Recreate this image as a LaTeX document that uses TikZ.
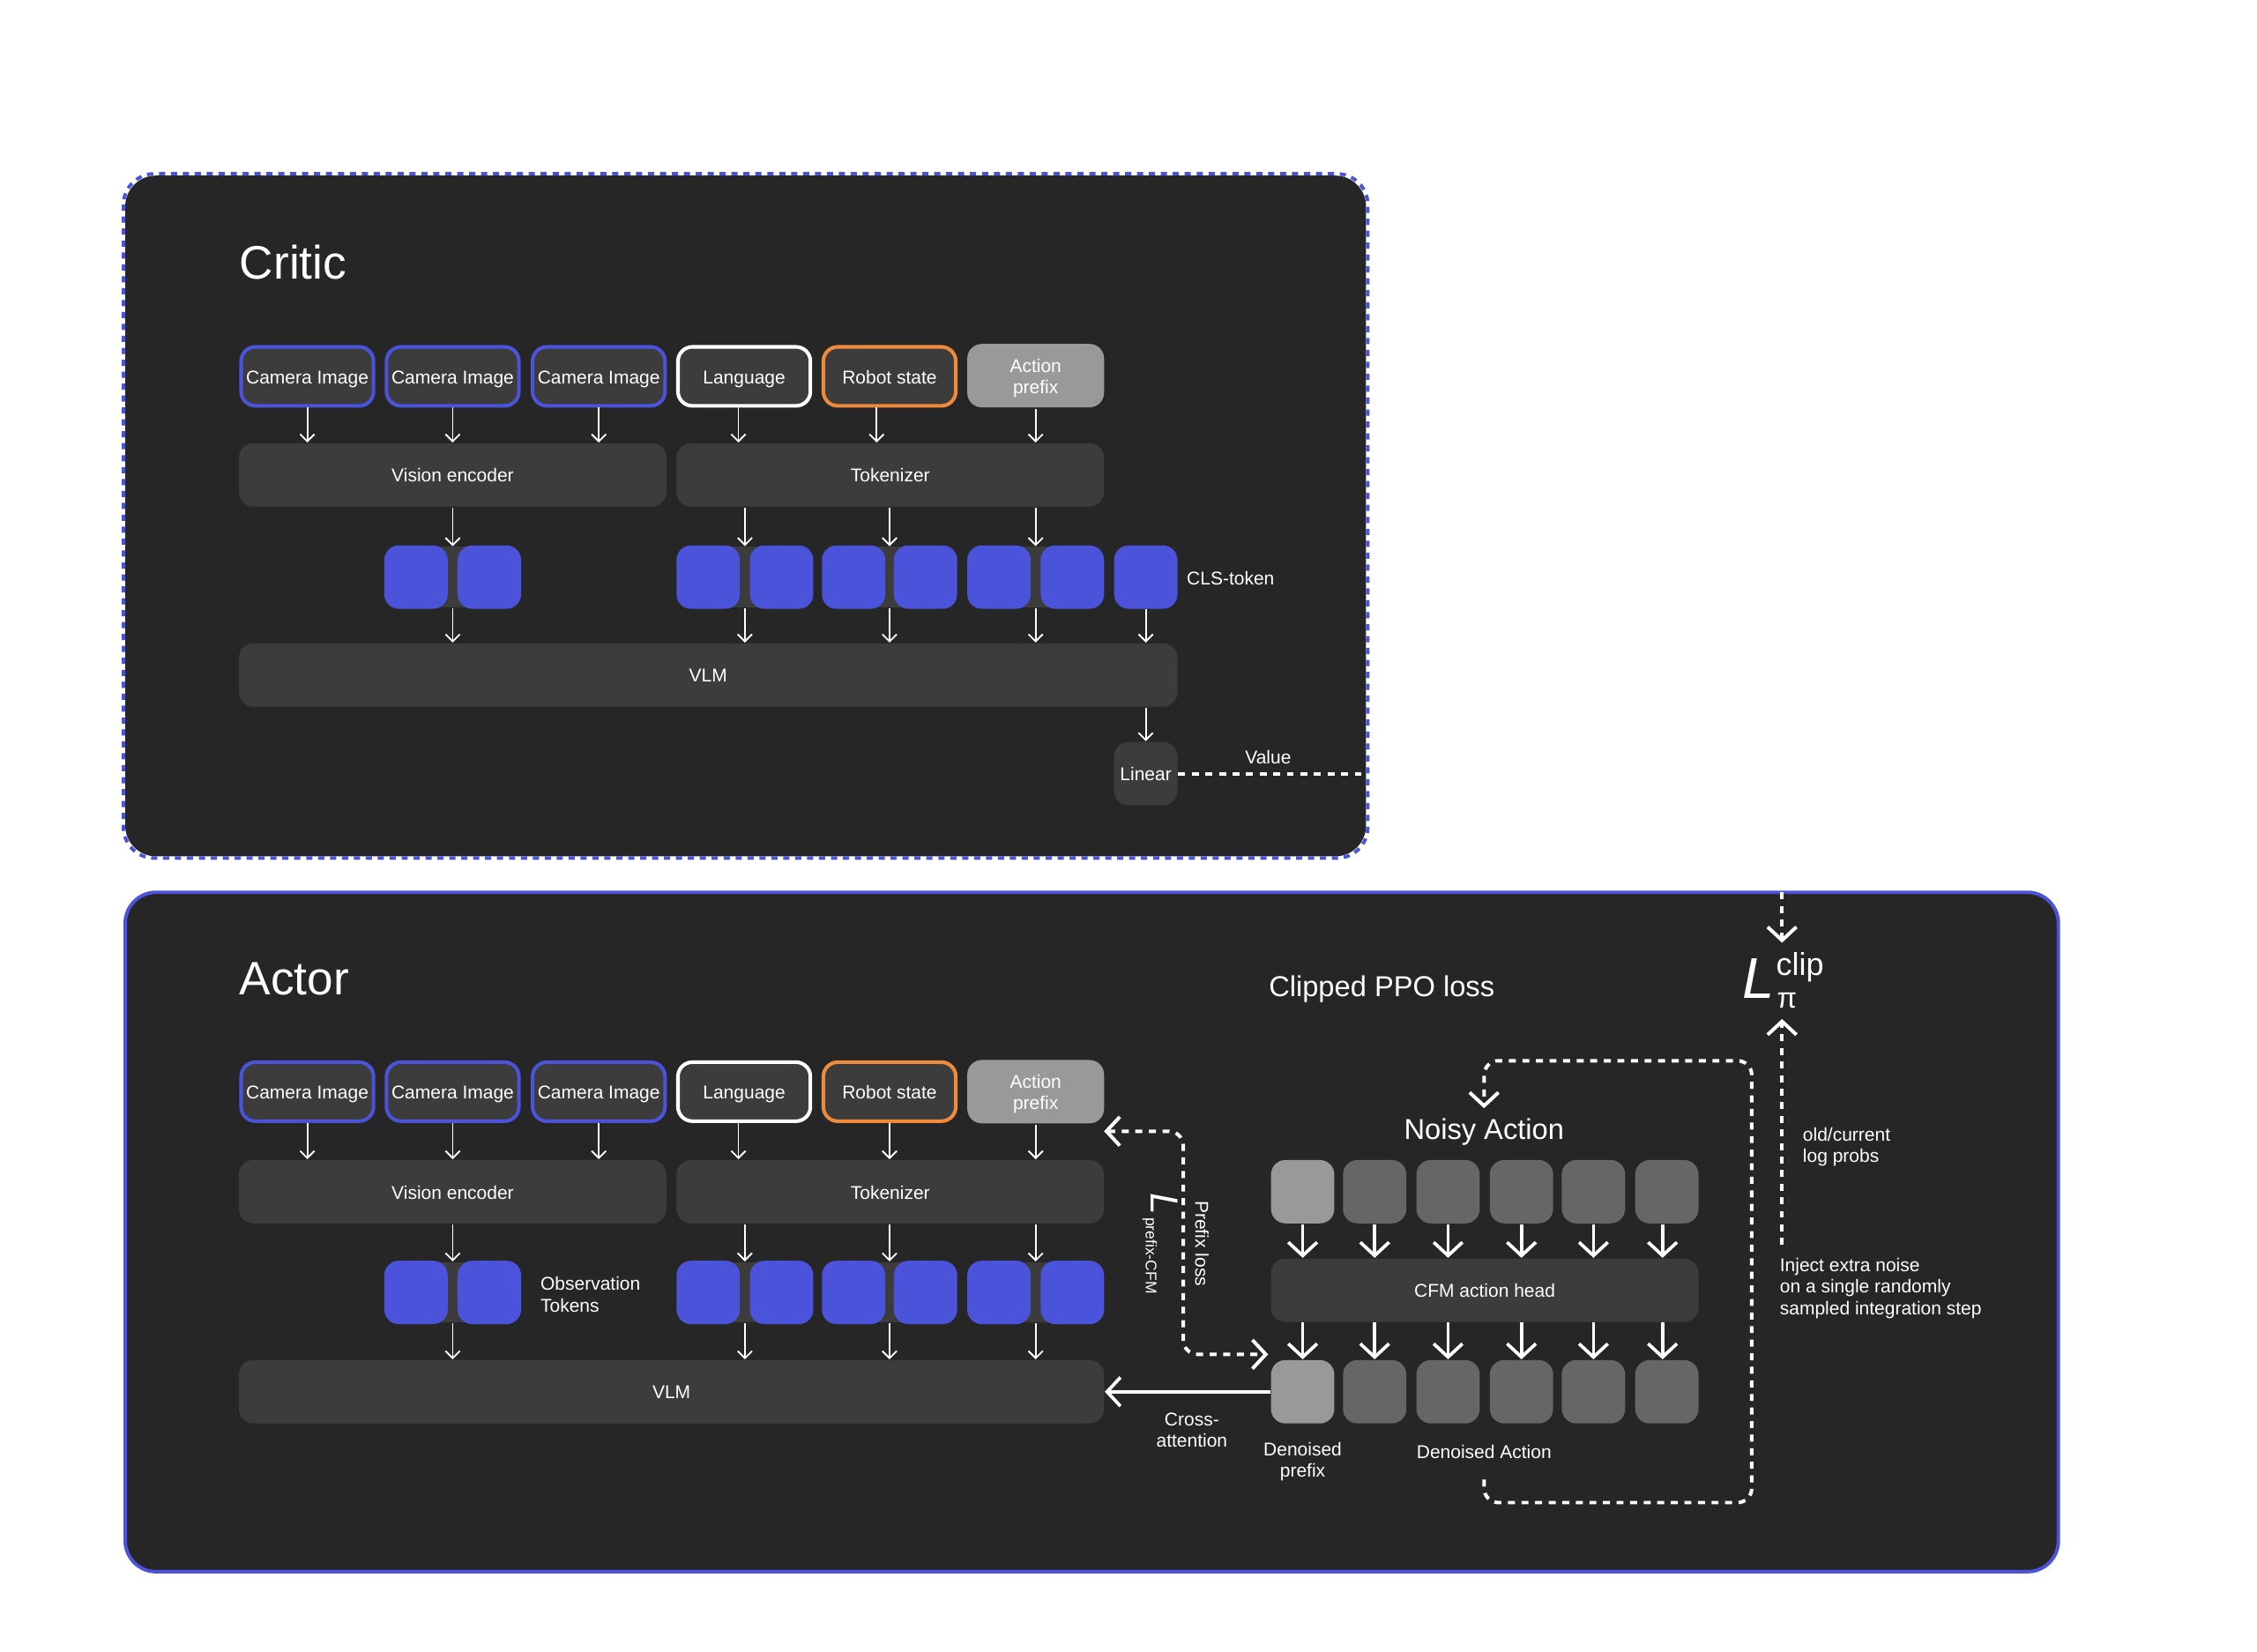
\documentclass[tikz,border=0pt]{standalone}
\usepackage{fontspec}
\setmainfont{Liberation Sans}
\usetikzlibrary{arrows.meta}

\definecolor{panelbg}{HTML}{262626}
\definecolor{boxbg}{HTML}{3C3C3C}
\definecolor{tokenblue}{HTML}{4A53D9}
\definecolor{robotorange}{HTML}{EE8A3A}
\definecolor{prefixgray}{HTML}{999999}
\definecolor{actiongray}{HTML}{666666}

\tikzset{every picture/.style={line width=0.75pt},
  panel/.style={rectangle,rounded corners=15pt,fill=panelbg,draw=tokenblue,line width=1.7pt},
  inputbox/.style={rectangle,rounded corners=7pt,fill=boxbg,line width=1.75pt,minimum width=64.4pt,minimum height=28.7pt,inner sep=0pt,text=white,font=\smalltext,align=center,text height=8.5pt,text depth=1.5pt},
  barbox/.style={rectangle,rounded corners=7pt,fill=boxbg,minimum height=30.8pt,inner sep=0pt,text=white,font=\smalltext,text height=8.5pt,text depth=1.5pt},
  tokenbox/.style={rectangle,rounded corners=7pt,fill=tokenblue,minimum width=30.8pt,minimum height=30.8pt,inner sep=0pt},
  tokengap/.style={rectangle,fill=boxbg,minimum width=12.6pt,minimum height=29.4pt,inner sep=0pt},
  actionbox/.style={rectangle,rounded corners=7pt,fill=actiongray,minimum width=30.8pt,minimum height=30.8pt,inner sep=0pt},
  thinarrow/.style={draw=white,line width=0.8pt,-{Straight Barb[length=3.5pt,width=7pt]}},
  thickarrow/.style={draw=white,line width=1.6pt,-{Straight Barb[length=6.5pt,width=14pt]}},
  dashline/.style={draw=white,line width=1.7pt,dash pattern=on 3.4pt off 3.2pt,rounded corners=7pt},
  label/.style={inner sep=0pt,text=white,font=\smalltext,align=left},
  headline/.style={inner sep=0pt,text=white,font=\fontsize{14}{16}\selectfont},
  titletext/.style={inner sep=0pt,text=white,font=\fontsize{22.8}{26}\selectfont}}
\newcommand{\smalltext}{\fontsize{9}{10.5}\selectfont}

\begin{document}
\begin{tikzpicture}[x=0.7pt,y=0.7pt,yscale=-1,xscale=1]
\useasboundingbox (0,0) rectangle (1568,1147.8);

%Shape: Critic panel
\node (critic) [panel,draw=none,minimum width=603.4pt,minimum height=331.1pt] at (518,358.5) {};
\draw [draw=tokenblue,line width=1.7pt,dash pattern=on 3pt off 2.8pt,rounded corners=15pt] (critic.north west) rectangle (critic.south east);
%Shape: Actor panel
\node (actor) [panel,minimum width=940.1pt,minimum height=330.4pt] at (758.5,856) {};

% Text Node
\node (crtitle) [titletext,anchor=west] at (166,182) {Critic};
\node (actitle) [titletext,anchor=west] at (166,680) {Actor};

%Shape: Critic inputs
\node (ccam1) [inputbox,draw=tokenblue] at (213.5,261.5) {Camera Image};
\node (ccam2) [inputbox,draw=tokenblue] at (314.5,261.5) {Camera Image};
\node (ccam3) [inputbox,draw=tokenblue] at (416,261.5) {Camera Image};
\node (clang) [inputbox,draw=white] at (517,261.5) {Language};
\node (crobot) [inputbox,draw=robotorange] at (618,261.5) {Robot state};
\node (cprefix) [inputbox,fill=prefixgray,minimum width=66.5pt,minimum height=30.8pt,text height=19pt] at (719.5,261) {Action\\prefix};
%Shape: Critic encoders
\node (cvis) [barbox,minimum width=207.9pt] at (314.5,330) {Vision encoder};
\node (ctok) [barbox,minimum width=207.9pt] at (618.5,330) {Tokenizer};
%Shape: Critic tokens
\node (cgap1) [tokengap] at (314.5,401) {};
\node (cgap2) [tokengap] at (517.5,401) {};
\node (cgap3) [tokengap] at (618,401) {};
\node (cgap4) [tokengap] at (719.5,401) {};
\node (ctk1a) [tokenbox] at (289,401) {};
\node (ctk1b) [tokenbox] at (340,401) {};
\node (ctk2a) [tokenbox] at (492,401) {};
\node (ctk2b) [tokenbox] at (543,401) {};
\node (ctk3a) [tokenbox] at (593,401) {};
\node (ctk3b) [tokenbox] at (643,401) {};
\node (ctk4a) [tokenbox] at (694,401) {};
\node (ctk4b) [tokenbox] at (745,401) {};
\node (ccls) [tokenbox] at (796,401) {};
%Shape: Critic VLM and head
\node (cvlm) [barbox,minimum width=456.4pt] at (492,469) {VLM};
\node (clinear) [barbox,minimum width=30.8pt] at (796,537.5) {Linear};
\coordinate (valueend) at (949,537.5);

% Text Node
\node (clstext) [label,anchor=west] at (824,402) {CLS-token};
\node (valtext) [label] at (881,526) {Value};

%Straight Lines
\draw [thinarrow] (ccam1.south) -- (ccam1.south |- cvis.north);
\draw [thinarrow] (ccam2.south) -- (ccam2.south |- cvis.north);
\draw [thinarrow] (ccam3.south) -- (ccam3.south |- cvis.north);
\draw [thinarrow] ([xshift=-2.8pt]clang.south) -- ([xshift=-2.8pt]clang.south |- ctok.north);
\draw [thinarrow] ([xshift=-6.3pt]crobot.south) -- ([xshift=-6.3pt]crobot.south |- ctok.north);
\draw [thinarrow] (cprefix.south) -- (cprefix.south |- ctok.north);
\draw [thinarrow] (cvis.south -| cgap1) -- (cgap1.north);
\draw [thinarrow] (ctok.south -| cgap2) -- (cgap2.north);
\draw [thinarrow] (ctok.south -| cgap3) -- (cgap3.north);
\draw [thinarrow] (ctok.south -| cgap4) -- (cgap4.north);
\draw [thinarrow] (cgap1.south) -- (cgap1.south |- cvlm.north);
\draw [thinarrow] (cgap2.south) -- (cgap2.south |- cvlm.north);
\draw [thinarrow] (cgap3.south) -- (cgap3.south |- cvlm.north);
\draw [thinarrow] (cgap4.south) -- (cgap4.south |- cvlm.north);
\draw [thinarrow] (ccls.south) -- (ccls.south |- cvlm.north);
\draw [thinarrow] (clinear.north |- cvlm.south) -- (clinear.north);
\draw [dashline] (clinear.east) -- (valueend);

%Shape: Actor inputs
\node (acam1) [inputbox,draw=tokenblue] at (213.5,758.5) {Camera Image};
\node (acam2) [inputbox,draw=tokenblue] at (314.5,758.5) {Camera Image};
\node (acam3) [inputbox,draw=tokenblue] at (416,758.5) {Camera Image};
\node (alang) [inputbox,draw=white] at (517,758.5) {Language};
\node (arobot) [inputbox,draw=robotorange] at (618,758.5) {Robot state};
\node (aprefix) [inputbox,fill=prefixgray,minimum width=66.5pt,minimum height=30.8pt,text height=19pt] at (719.5,758.5) {Action\\prefix};
%Shape: Actor encoders
\node (avis) [barbox,minimum width=207.9pt] at (314.5,828) {Vision encoder};
\node (atok) [barbox,minimum width=207.9pt] at (618.5,828) {Tokenizer};
%Shape: Actor tokens
\node (agap1) [tokengap] at (314.5,898) {};
\node (agap2) [tokengap] at (517.5,898) {};
\node (agap3) [tokengap] at (618,898) {};
\node (agap4) [tokengap] at (719.5,898) {};
\node (atk1a) [tokenbox] at (289,898) {};
\node (atk1b) [tokenbox] at (340,898) {};
\node (atk2a) [tokenbox] at (492,898) {};
\node (atk2b) [tokenbox] at (543,898) {};
\node (atk3a) [tokenbox] at (593,898) {};
\node (atk3b) [tokenbox] at (643,898) {};
\node (atk4a) [tokenbox] at (694,898) {};
\node (atk4b) [tokenbox] at (745,898) {};
%Shape: Actor VLM
\node (avlm) [barbox,minimum width=420.7pt] at (466.5,967) {VLM};

% Text Node
\node (obstext) [label,anchor=west] at (375,899.5) {Observation\\Tokens};

%Straight Lines
\draw [thinarrow] (acam1.south) -- (acam1.south |- avis.north);
\draw [thinarrow] (acam2.south) -- (acam2.south |- avis.north);
\draw [thinarrow] (acam3.south) -- (acam3.south |- avis.north);
\draw [thinarrow] ([xshift=-2.8pt]alang.south) -- ([xshift=-2.8pt]alang.south |- atok.north);
\draw [thinarrow] (arobot.south) -- (arobot.south |- atok.north);
\draw [thinarrow] (aprefix.south) -- (aprefix.south |- atok.north);
\draw [thinarrow] (avis.south -| agap1) -- (agap1.north);
\draw [thinarrow] (atok.south -| agap2) -- (agap2.north);
\draw [thinarrow] (atok.south -| agap3) -- (agap3.north);
\draw [thinarrow] (atok.south -| agap4) -- (agap4.north);
\draw [thinarrow] (agap1.south) -- (agap1.south |- avlm.north);
\draw [thinarrow] (agap2.south) -- (agap2.south |- avlm.north);
\draw [thinarrow] (agap3.south) -- (agap3.south |- avlm.north);
\draw [thinarrow] (agap4.south) -- (agap4.south |- avlm.north);

%Shape: Action squares
\node (top1) [actionbox,fill=prefixgray] at (905,828) {};
\node (top2) [actionbox] at (955,828) {};
\node (top3) [actionbox] at (1006,828) {};
\node (top4) [actionbox] at (1057,828) {};
\node (top5) [actionbox] at (1107,828) {};
\node (top6) [actionbox] at (1158,828) {};
\node (head) [barbox,minimum width=207.9pt] at (1031.5,896.5) {CFM action head};
\node (bot1) [actionbox,fill=prefixgray] at (905,967) {};
\node (bot2) [actionbox] at (955,967) {};
\node (bot3) [actionbox] at (1006,967) {};
\node (bot4) [actionbox] at (1057,967) {};
\node (bot5) [actionbox] at (1107,967) {};
\node (bot6) [actionbox] at (1158,967) {};

%Straight Lines
\draw [thickarrow] (top1.south) -- (top1.south |- head.north);
\draw [thickarrow] (top2.south) -- (top2.south |- head.north);
\draw [thickarrow] (top3.south) -- (top3.south |- head.north);
\draw [thickarrow] (top4.south) -- (top4.south |- head.north);
\draw [thickarrow] (top5.south) -- (top5.south |- head.north);
\draw [thickarrow] ([xshift=-2.1pt]top6.south) -- ([xshift=-2.1pt]top6.south |- head.north);
\draw [thickarrow] (bot1.north |- head.south) -- (bot1.north);
\draw [thickarrow] (bot2.north |- head.south) -- (bot2.north);
\draw [thickarrow] (bot3.north |- head.south) -- (bot3.north);
\draw [thickarrow] (bot4.north |- head.south) -- (bot4.north);
\draw [thickarrow] (bot5.north |- head.south) -- (bot5.north);
\draw [thickarrow] ([xshift=-2.1pt]bot6.north |- head.south) -- ([xshift=-2.1pt]bot6.north);
\draw [thickarrow] (bot1.west) -- (avlm.east);

% Text Node
\node (ppotext) [headline,anchor=west] at (881,687.5) {Clipped PPO loss};
\node (noisytext) [headline] at (1031,786.5) {Noisy Action};
\node (crosstext) [label,align=center] at (828,993.5) {Cross-\\attention};
\node (denprefix) [label,align=center] at (905,1015.5) {Denoised\\prefix};
\node (denaction) [label] at (1031,1009) {Denoised Action};
\node (probtext) [label,anchor=west] at (1252,797) {old/current\\log probs};
\node (injecttext) [label,anchor=west] at (1236,895) {Inject extra noise\\on a single randomly\\sampled integration step};
\node (prefixtext) [label,rotate=-90] at (835,864) {Prefix loss};
\node (prefixloss) [inner sep=0pt,text=white,rotate=-90] at (806,864) {{\fontsize{19}{19}\selectfont\itshape L}\raisebox{-2.5pt}{\fontsize{7.5}{9}\selectfont\,prefix-CFM}};
\node (lossL) [inner sep=0pt,text=white,font=\fontsize{28}{30}\selectfont\itshape] at (1222,680) {L};
\node (lossclip) [inner sep=0pt,text=white,font=\fontsize{15.4}{17}\selectfont] at (1250.5,672) {clip};
\node (losspi) [inner sep=0pt,text=white,font=\fontsize{14}{15}\selectfont] at (1241.5,695) {π};

%Dashed connectors
\coordinate (prefixtop) at (767,786);
\coordinate (prefixmid) at (822,864);
\coordinate (prefixbot) at (881,941);
\draw [dashline,{Straight Barb[length=6.5pt,width=14pt]}-{Straight Barb[length=6.5pt,width=14pt]}] (prefixtop) -| (prefixmid) |- (prefixbot);
\coordinate (noisestart) at (1031,1028);
\coordinate (noiseA) at (1031,1044);
\coordinate (noiseB) at (1217,1044);
\coordinate (noiseC) at (1217,737);
\coordinate (noiseD) at (1031,737);
\coordinate (noisetip) at (1031,770);
\draw [dashline,-{Straight Barb[length=6.5pt,width=14pt]}] (noisestart) -- (noiseA) -- (noiseB) -- (noiseC) -- (noiseD) -- (noisetip);
\coordinate (clipin) at (1238,620);
\coordinate (clipintip) at (1238,655);
\draw [dashline,-{Straight Barb[length=6.5pt,width=14pt]}] (clipin) -- (clipintip);
\coordinate (probstart) at (1238,865);
\coordinate (probtip) at (1238,708);
\draw [dashline,-{Straight Barb[length=6.5pt,width=14pt]}] (probstart) -- (probtip);

\end{tikzpicture}
\end{document}
